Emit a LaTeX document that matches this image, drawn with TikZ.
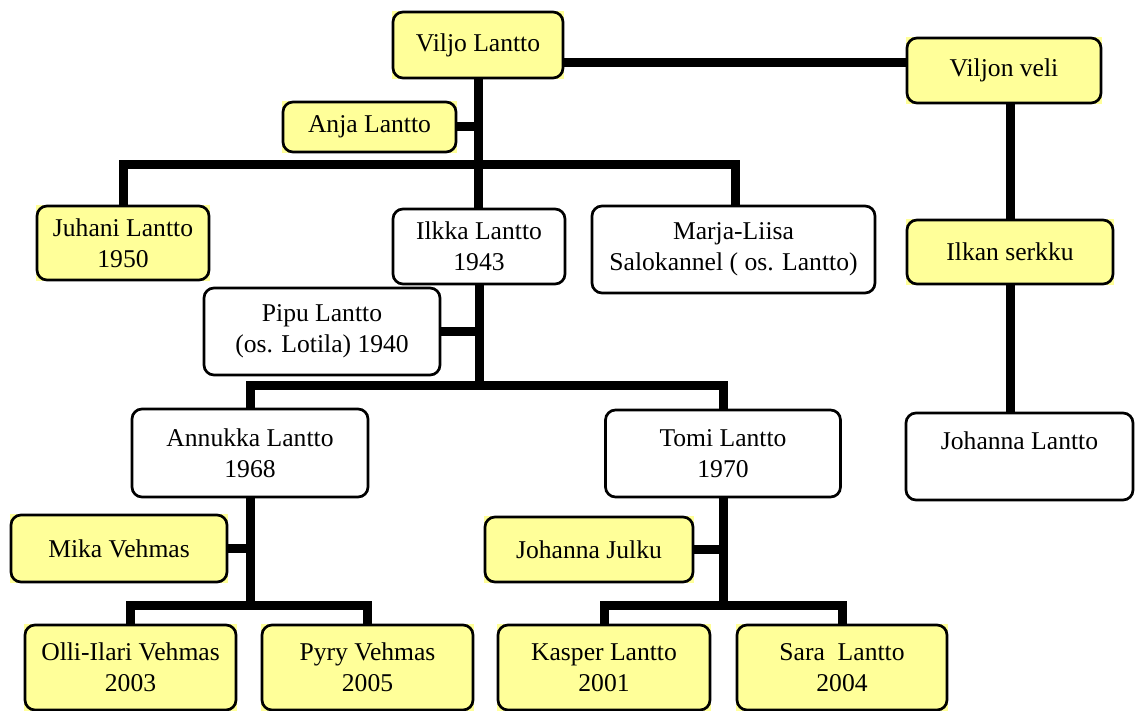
\documentclass[tikz,border=0pt]{standalone}
\usepackage{fontspec}
\setmainfont{Liberation Serif}
\usetikzlibrary{backgrounds,calc}
\definecolor{ylw}{RGB}{255,255,153}
\begin{document}
\begin{tikzpicture}[x=1pt,y=-1pt,
  person/.style={draw=black, line width=2.7pt, rounded corners=10pt, fill=white,
    inner sep=0pt, align=center, font=\fontsize{25.6}{31}\selectfont},
  ybox/.style={person, fill=ylw},
  conn/.style={line width=9pt, line join=miter}]
\useasboundingbox (0,0) rectangle (1135,711);

% --- people ---
\node[ybox, minimum width=170, minimum height=66] (viljo) at (478,45) {Viljo Lantto};
\node[ybox, minimum width=194, minimum height=65] (veli) at (1004,70.5) {Viljon veli};
\node[ybox, minimum width=173, minimum height=50] (anja) at (369.5,127) {Anja Lantto};
\node[ybox, minimum width=172, minimum height=74] (juhani) at (123,243) {Juhani Lantto\\1950};
\node[person, minimum width=172, minimum height=75] (ilkka) at (479,246.5) {Ilkka Lantto\\1943};
\node[person, minimum width=283, minimum height=87] (marja) at (733.5,249.5) {Marja-Liisa\\Salokannel ( os. Lantto)};
\node[ybox, minimum width=206, minimum height=64] (serkku) at (1010,252) {Ilkan serkku};
\node[person, minimum width=236, minimum height=87] (pipu) at (322,331.5) {Pipu Lantto\\(os. Lotila) 1940};
\node[person, minimum width=236, minimum height=88] (annukka) at (250,453) {Annukka Lantto\\1968};
\node[person, minimum width=235, minimum height=87] (tomi) at (723,453.5) {Tomi Lantto\\1970};
\node[person, minimum width=227, minimum height=87] (johl) at (1019.5,456.5) {Johanna Lantto\\\mbox{}};
\node[ybox, minimum width=216, minimum height=67] (mika) at (119,548.5) {Mika Vehmas};
\node[ybox, minimum width=208, minimum height=65] (julku) at (589,549.5) {Johanna Julku};
\node[ybox, minimum width=211, minimum height=85] (olli) at (130.5,667.5) {Olli-Ilari Vehmas\\2003};
\node[ybox, minimum width=211, minimum height=85] (pyry) at (367.5,667.5) {Pyry Vehmas\\2005};
\node[ybox, minimum width=212, minimum height=85] (kasper) at (604,667.5) {Kasper Lantto\\2001};
\node[ybox, minimum width=210, minimum height=85] (sara) at (842,667.5) {Sara~~Lantto\\2004};

% --- family lines ---
\coordinate (sibbar) at (0,165);
\coordinate (kidbar) at (0,385);
\coordinate (gkbar) at (0,605);
\begin{scope}[on background layer]
  \foreach \n in {viljo,veli,anja,juhani,serkku,mika,julku,olli,pyry,kasper,sara}
    \fill[ylw] (\n.south west) rectangle (\n.north east);
  \draw[conn] ($(viljo.east)+(0,18)$) -- ($(veli.west)+(0,-7.5)$);
  \draw[conn] (viljo.south) -- (viljo.south |- ilkka.north);
  \draw[conn] (anja.east) -- (anja.east -| viljo.south);
  \draw[conn] (juhani.north) -- (juhani.north |- sibbar) -- ([xshift=1.5pt]marja.north |- sibbar) -- ([xshift=1.5pt]marja.north);
  \draw[conn] (ilkka.south) -- (ilkka.south |- kidbar);
  \draw[conn] (pipu.east) -- (pipu.east -| ilkka.south);
  \draw[conn] (annukka.north) -- (annukka.north |- kidbar) -- (tomi.north |- kidbar) -- (tomi.north);
  \draw[conn] (annukka.south) -- (annukka.south |- gkbar);
  \draw[conn] (olli.north) -- (olli.north |- gkbar) -- (pyry.north |- gkbar) -- (pyry.north);
  \draw[conn] (mika.east) -- (mika.east -| annukka.south);
  \draw[conn] (tomi.south) -- (tomi.south |- gkbar);
  \draw[conn] (kasper.north) -- (kasper.north |- gkbar) -- (sara.north |- gkbar) -- (sara.north);
  \draw[conn] (julku.east) -- (julku.east -| tomi.south);
  \draw[conn] (serkku.north |- veli.south) -- (serkku.north);
  \draw[conn] (serkku.south) -- (serkku.south |- johl.north);
\end{scope}
\end{tikzpicture}
\end{document}
